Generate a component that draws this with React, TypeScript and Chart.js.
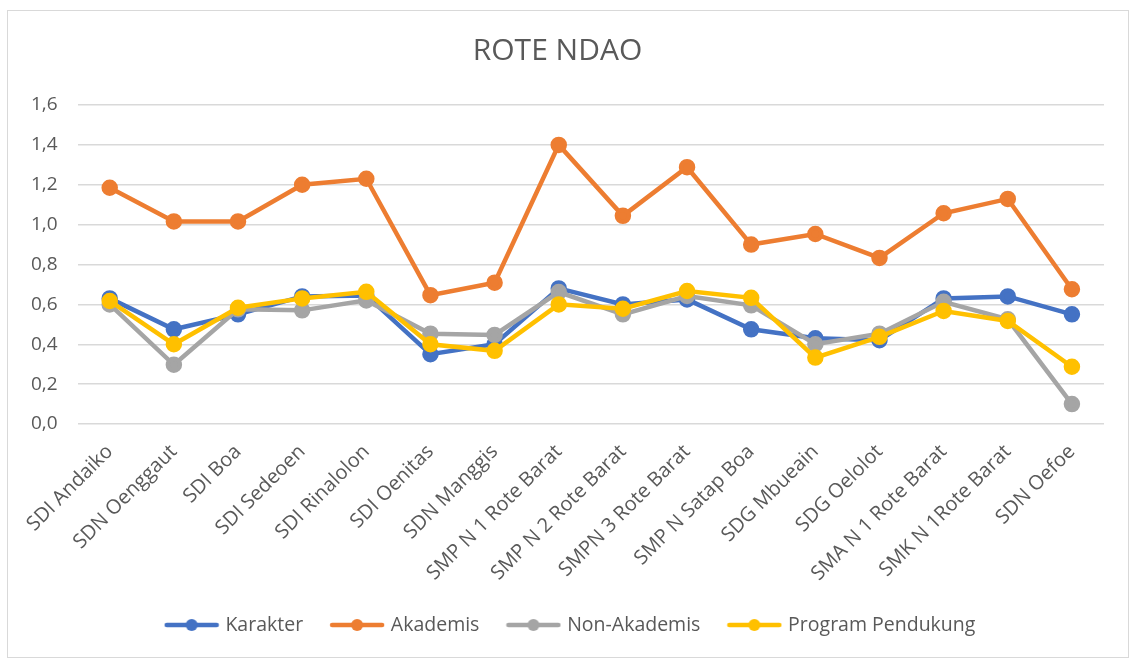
import React, { useEffect, useRef } from "react";
import { Chart, registerables } from "chart.js";

Chart.register(...registerables);

const categories = [
  "SDI Andaiko",
  "SDN Oenggaut",
  "SDI Boa",
  "SDI Sedeoen",
  "SDI Rinalolon",
  "SDI Oenitas",
  "SDN Manggis",
  "SMP N 1 Rote Barat",
  "SMP N 2 Rote Barat",
  "SMPN 3 Rote Barat",
  "SMP N Satap Boa",
  "SDG Mbueain",
  "SDG Oelolot",
  "SMA N 1 Rote Barat",
  "SMK N 1Rote Barat",
  "SDN Oefoe",
];

const karakter = [0.63, 0.475, 0.55, 0.64, 0.645, 0.35, 0.4, 0.68, 0.6, 0.625, 0.475, 0.43, 0.42, 0.63, 0.64, 0.55];
const akademis = [1.185, 1.016, 1.016, 1.2, 1.23, 0.646, 0.709, 1.4, 1.044, 1.288, 0.9, 0.953, 0.833, 1.057, 1.129, 0.676];
const nonAkademis = [0.6, 0.297, 0.575, 0.57, 0.62, 0.453, 0.447, 0.662, 0.55, 0.642, 0.595, 0.4, 0.453, 0.613, 0.525, 0.1];
const programPendukung = [0.617, 0.4, 0.583, 0.63, 0.663, 0.4, 0.367, 0.6, 0.578, 0.667, 0.633, 0.333, 0.437, 0.567, 0.517, 0.287];

const seriesNames = ["Karakter", "Akademis", "Non-Akademis", "Program Pendukung"];
const seriesColors = ["#4472C4", "#ED7D31", "#A5A5A5", "#FFC000"];
const yTicks = [0, 0.2, 0.4, 0.6, 0.8, 1.0, 1.2, 1.4, 1.6];
const title = "ROTE NDAO";

const FONT = "'Open Sans', 'DejaVu Sans', sans-serif";
const TEXT = "#595959";

const LEGEND_FONT = 19.5;
const LEGEND_PAD = 30;

function legendIcon(color: string): HTMLCanvasElement {
  const c = document.createElement("canvas");
  c.width = 56;
  c.height = 14;
  const ctx = c.getContext("2d")!;
  ctx.strokeStyle = color;
  ctx.lineWidth = 4.5;
  ctx.lineCap = "round";
  ctx.beginPath();
  ctx.moveTo(3, 7);
  ctx.lineTo(53, 7);
  ctx.stroke();
  ctx.fillStyle = color;
  ctx.beginPath();
  ctx.arc(28, 7, 6, 0, Math.PI * 2);
  ctx.fill();
  return c;
}

// Legend: reserve only a small band in the layout, then place its row where the reference has it.
const legendPlacement = {
  id: "legendPlacement",
  beforeLayout(chart: any) {
    const l = chart.legend;
    if (l && !l._patchedFit) {
      const orig = l.fit.bind(l);
      l.fit = function () {
        orig();
        this._origH = this.height;
        this.height = 30;
      };
      l._patchedFit = true;
    }
  },
  afterLayout(chart: any) {
    const l = chart.legend;
    if (l) {
      l.left += 14;
      l.right += 14;
      const centerY = 614;
      const top = centerY - (LEGEND_PAD + LEGEND_FONT / 2);
      l.top = top;
      l.bottom = top + (l._origH || 63);
    }
  },
};

export default function App() {
  const ref = useRef<HTMLCanvasElement | null>(null);

  useEffect(() => {
    if (!ref.current) return;
    const data = [karakter, akademis, nonAkademis, programPendukung];
    const icons = seriesColors.map(legendIcon);
    const chart = new Chart(ref.current, {
      type: "line",
      plugins: [legendPlacement],
      data: {
        labels: categories,
        datasets: data.map((d, i) => ({
          label: seriesNames[i],
          data: d,
          borderColor: seriesColors[i],
          backgroundColor: seriesColors[i],
          pointBackgroundColor: seriesColors[i],
          pointBorderColor: seriesColors[i],
          borderWidth: 4.5,
          pointRadius: 6,
          pointHoverRadius: 6,
          tension: 0,
          fill: false,
          order: 4 - i,
        })),
      },
      options: {
        animation: false,
        responsive: false,
        maintainAspectRatio: false,
        layout: { padding: { left: 3, right: 24, top: 14, bottom: 0 } },
        plugins: {
          title: {
            display: true,
            text: title,
            color: TEXT,
            font: { family: FONT, size: 30, weight: "normal" },
            padding: { top: 8, bottom: 36 },
          },
          legend: {
            display: true,
            position: "bottom",
            labels: {
              usePointStyle: true,
              pointStyleWidth: 48,
              color: TEXT,
              font: { family: FONT, size: LEGEND_FONT },
              padding: LEGEND_PAD,
              sort: (a: any, b: any) => a.datasetIndex - b.datasetIndex,
              generateLabels: (chart: any) => {
                const items = Chart.defaults.plugins.legend.labels.generateLabels(chart);
                return items.map((it: any) => ({ ...it, pointStyle: icons[it.datasetIndex] }));
              },
            },
          },
          tooltip: { enabled: false },
        },
        scales: {
          x: {
            type: "category",
            offset: true,
            grid: { display: false, drawTicks: false },
            border: { display: false },
            afterFit: (axis: any) => {
              axis.height = 203;
            },
            ticks: {
              color: TEXT,
              font: { family: FONT, size: 20 },
              minRotation: 45,
              maxRotation: 45,
              autoSkip: false,
              padding: 16,
            },
          },
          y: {
            min: 0,
            max: 1.6,
            afterBuildTicks: (axis: any) => {
              axis.ticks = yTicks.map((v) => ({ value: v }));
            },
            grid: { color: "#D9D9D9", lineWidth: 1.5, drawTicks: false },
            border: { display: false },
            ticks: {
              color: TEXT,
              font: { family: FONT, size: 19 },
              padding: 20,
              callback: (v: any) => Number(v).toFixed(1).replace(".", ","),
            },
          },
        },
      },
    });
    return () => chart.destroy();
  }, []);

  return (
    <div
      style={{
        position: "absolute",
        left: 7,
        top: 10,
        width: 1120,
        height: 646,
        border: "1px solid #D9D9D9",
        background: "#fff",
      }}
    >
      <canvas ref={ref} width={1120} height={646} style={{ display: "block" }} />
    </div>
  );
}
